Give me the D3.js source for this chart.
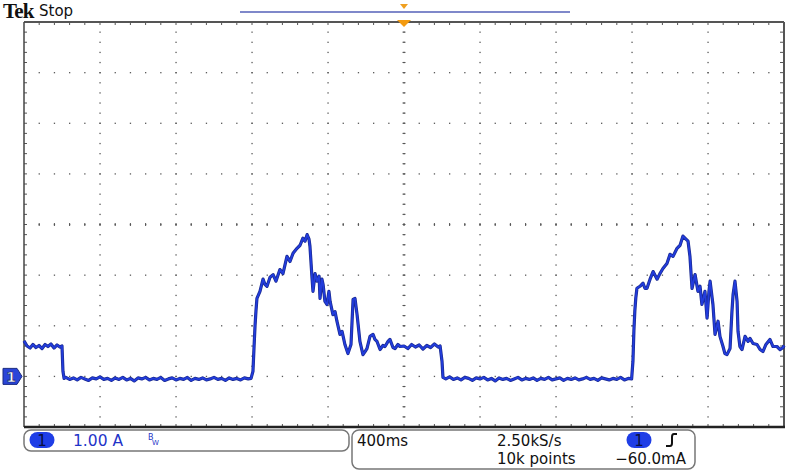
<!DOCTYPE html>
<html><head><meta charset="utf-8">
<script src="https://cdn.jsdelivr.net/npm/d3@7"></script>
<style>
html,body{margin:0;padding:0;background:#fff;}
svg{display:block;}
</style></head>
<body>
<svg id="c" width="800" height="476"></svg>
<script>
// ---- data (time in ms relative to trigger, current in A) ----
const timeRangeMs = [-2000, 2000];
const currentRangeA = [-1, 7];
const xDivisions = 10;
const yDivisions = 8;
const headerTexts = ["Tek", "Stop"];
const channelScale = "1.00 A";
const timebase = "400ms";
const sampleRate = "2.50kS/s";
const recordLength = "10k points";
const triggerLevel = "\u221260.0mA";

const highStartMs = [-2000,-1984,-1968,-1953,-1937,-1921,-1905,-1889,-1874,-1858,-1842,-1826,-1811,-1800];
const highStartA  = [0.70,0.60,0.56,0.63,0.57,0.61,0.55,0.63,0.59,0.64,0.56,0.62,0.58,0.60];

const lowOneMs = [-1795,-1789,-1780,-1760,-1740,-1720,-1700,-1680,-1660,-1640,-1620,-1600,-1580,-1560,-1540,-1520,-1500,-1480,-1460,-1440,-1420,-1400,-1380,-1360,-1340,-1320,-1300,-1280,-1260,-1240,-1220,-1200,-1180,-1160,-1140,-1120,-1100,-1080,-1060,-1040,-1020,-1000,-980,-960,-940,-920,-900,-880,-860,-840,-820,-805];
const lowOneA  = [0.10,-0.04,-0.02,-0.06,-0.03,-0.07,-0.02,-0.05,-0.08,-0.03,-0.05,-0.01,-0.06,-0.04,-0.08,-0.03,-0.06,-0.02,-0.07,-0.04,-0.09,-0.03,-0.05,-0.02,-0.07,-0.04,-0.06,-0.02,-0.08,-0.05,-0.03,-0.07,-0.04,-0.06,-0.02,-0.08,-0.04,-0.06,-0.03,-0.07,-0.05,-0.02,-0.06,-0.04,-0.08,-0.03,-0.06,-0.04,-0.07,-0.03,-0.05,-0.04];

const pulseOneMs = [-795,-789,-784,-779,-774,-758,-742,-732,-721,-705,-689,-674,-653,-637,-616,-600,-584,-563,-547,-532,-521,-510,-500,-495,-484,-479,-468,-458,-447,-442,-432,-426,-416,-405,-395,-389,-374,-363,-353,-337,-326,-311,-295,-279,-268,-258,-247,-232,-216,-205,-195,-179,-163,-153,-142,-126,-111,-100,-84,-74,-58,-47,-32,-21,0,20,40,60,80,100,120,140,160,180,190];
const pulseOneA  = [0.10,0.60,1.00,1.30,1.54,1.68,1.92,1.82,1.78,1.96,2.01,1.88,2.11,2.03,2.37,2.27,2.43,2.53,2.59,2.73,2.67,2.80,2.71,2.57,1.94,1.68,2.03,1.88,1.98,1.54,1.92,1.82,1.48,1.42,1.68,1.48,1.22,1.28,1.09,0.83,0.89,0.63,0.45,0.63,1.52,1.54,1.22,0.69,0.43,0.49,0.55,0.79,0.83,0.73,0.69,0.53,0.61,0.59,0.69,0.73,0.57,0.55,0.63,0.59,0.60,0.55,0.63,0.58,0.62,0.54,0.61,0.57,0.64,0.58,0.60];

const lowTwoMs = [200,205,220,240,260,280,300,320,340,360,380,400,420,440,460,480,500,520,540,560,580,600,620,640,660,680,700,720,740,760,780,800,820,840,860,880,900,920,940,960,980,1000,1020,1040,1060,1080,1100,1120,1140,1160,1180,1198];
const lowTwoA  = [0.30,-0.02,-0.05,-0.01,-0.06,-0.03,-0.07,-0.02,-0.04,-0.08,-0.03,-0.05,-0.02,-0.07,-0.04,-0.09,-0.03,-0.06,-0.04,-0.08,-0.05,-0.02,-0.07,-0.04,-0.06,-0.03,-0.08,-0.04,-0.06,-0.02,-0.07,-0.05,-0.03,-0.08,-0.04,-0.06,-0.03,-0.07,-0.05,-0.02,-0.06,-0.04,-0.08,-0.03,-0.05,-0.07,-0.04,-0.06,-0.02,-0.07,-0.04,-0.05];

const pulseTwoMs = [1205,1210,1215,1220,1226,1242,1258,1268,1279,1295,1311,1332,1347,1363,1384,1400,1416,1437,1453,1468,1484,1495,1505,1516,1532,1547,1558,1568,1584,1595,1605,1611,1626,1637,1653,1663,1679,1689,1700,1716,1726,1732,1742,1753,1758,1768,1779,1795,1811,1821,1837,1858,1874,1889,1905,1926,1942,1963,1979,1995,2000];
const pulseTwoA  = [0.30,0.90,1.30,1.55,1.74,1.78,1.84,1.74,1.74,1.92,2.07,1.92,2.03,2.13,2.23,2.41,2.37,2.53,2.59,2.77,2.71,2.67,2.37,1.74,2.01,1.68,1.78,1.42,1.68,1.15,1.68,1.88,1.42,0.83,1.09,0.79,0.59,0.45,0.43,0.55,1.28,1.62,1.88,1.48,0.89,0.59,0.53,0.79,0.69,0.75,0.65,0.63,0.53,0.49,0.63,0.73,0.59,0.59,0.53,0.57,0.61];

const traceMs = [].concat(highStartMs, lowOneMs, pulseOneMs, lowTwoMs, pulseTwoMs);
const traceA  = [].concat(highStartA, lowOneA, pulseOneA, lowTwoA, pulseTwoA);
const trace = traceMs.map((t, i) => ({t, a: traceA[i]}));

// ---- drawing ----
const svg = d3.select("#c");
const L = 24, R = 784, T = 22, B = 427;
const x = d3.scaleLinear().domain(timeRangeMs).range([L, R]);
const y = d3.scaleLinear().domain(currentRangeA).range([B, T]);

const divMs = (timeRangeMs[1]-timeRangeMs[0])/xDivisions;
const divA = (currentRangeA[1]-currentRangeA[0])/yDivisions;

const grid = svg.append("g").attr("fill", "#5a5a5a");
for (let j = 1; j < yDivisions; j++) {
  const a = currentRangeA[0] + j*divA;
  for (let k = 1; k < xDivisions*5; k++) {
    const t = timeRangeMs[0] + k*divMs/5;
    grid.append("rect").attr("x", x(t)-0.6).attr("y", y(a)-0.6).attr("width", 1.3).attr("height", 1.3);
  }
}
for (let i = 1; i < xDivisions; i++) {
  const t = timeRangeMs[0] + i*divMs;
  for (let k = 1; k < yDivisions*5; k++) {
    const a = currentRangeA[0] + k*divA/5;
    grid.append("rect").attr("x", x(t)-0.6).attr("y", y(a)-0.6).attr("width", 1.3).attr("height", 1.3);
  }
}
const ticks = svg.append("g").attr("stroke", "#555").attr("stroke-width", 1);
for (let k = 1; k < xDivisions*5; k++) {
  const t = timeRangeMs[0] + k*divMs/5;
  ticks.append("line").attr("x1", x(t)).attr("x2", x(t)).attr("y1", T).attr("y2", T+3);
  ticks.append("line").attr("x1", x(t)).attr("x2", x(t)).attr("y1", B).attr("y2", B-3);
}
for (let k = 1; k < yDivisions*5; k++) {
  const a = currentRangeA[0] + k*divA/5;
  ticks.append("line").attr("x1", L).attr("x2", L+3).attr("y1", y(a)).attr("y2", y(a));
  ticks.append("line").attr("x1", R).attr("x2", R-4).attr("y1", y(a)).attr("y2", y(a));
}
for (let k = 1; k < xDivisions*5; k++) {
  const t = timeRangeMs[0] + k*divMs/5;
  ticks.append("line").attr("x1", x(t)).attr("x2", x(t)).attr("y1", y(3)-1.5).attr("y2", y(3)+1.5);
}
for (let k = 1; k < yDivisions*5; k++) {
  const a = currentRangeA[0] + k*divA/5;
  ticks.append("line").attr("x1", x(0)-1.5).attr("x2", x(0)+1.5).attr("y1", y(a)).attr("y2", y(a));
}

// frame
svg.append("line").attr("x1", L).attr("x2", R).attr("y1", T).attr("y2", T).attr("stroke", "#555").attr("stroke-width", 2);
svg.append("line").attr("x1", L).attr("x2", L).attr("y1", T).attr("y2", B).attr("stroke", "#444").attr("stroke-width", 1.5);
svg.append("line").attr("x1", R).attr("x2", R).attr("y1", T).attr("y2", B+1).attr("stroke", "#555").attr("stroke-width", 2);
svg.append("line").attr("x1", L).attr("x2", R+1).attr("y1", B).attr("y2", B).attr("stroke", "#222").attr("stroke-width", 2.5);

// trace
const line = d3.line().x(d => x(d.t)).y(d => y(d.a));
svg.append("path").datum(trace).attr("d", line).attr("fill", "none")
  .attr("stroke", "#1a2a90").attr("stroke-width", 3.2).attr("stroke-linejoin", "round");
svg.append("path").datum(trace).attr("d", line).attr("fill", "none")
  .attr("stroke", "#223cdc").attr("stroke-width", 1.8).attr("stroke-linejoin", "round");

// header
svg.append("text").attr("x", 3).attr("y", 18).text(headerTexts[0])
  .attr("font-family", "Liberation Serif").attr("font-weight", "bold").attr("font-size", 21).attr("letter-spacing", -0.8).attr("fill", "#111");
svg.append("text").attr("x", 39).attr("y", 16).text(headerTexts[1])
  .attr("font-family", "DejaVu Sans").attr("font-size", 15).attr("fill", "#111");

// record bar and trigger markers
svg.append("line").attr("x1", 240).attr("x2", 570).attr("y1", 12).attr("y2", 12).attr("stroke", "#5560b8").attr("stroke-width", 1.5);
const tx = x(0);
svg.append("path").attr("d", `M${tx-4},4 L${tx+4},4 L${tx},9 Z`).attr("fill", "#f0a020");
svg.append("path").attr("d", `M${tx-7},20 L${tx+7},20 L${tx},27 Z`).attr("fill", "#f39a10");

// ground marker
const gy = y(0);
svg.append("path").attr("d", `M3,${gy-8} L17,${gy-8} L22,${gy} L17,${gy+8} L3,${gy+8} Z`)
  .attr("fill", "#2a45d8").attr("stroke", "#1a2a80").attr("stroke-width", 1);
svg.append("text").attr("x", 11).attr("y", gy+5.5).attr("text-anchor", "middle").text("1")
  .attr("font-family", "DejaVu Sans").attr("font-weight", "bold").attr("font-size", 14).attr("fill", "#fff").attr("stroke", "#10185a").attr("stroke-width", 0.6);

// status boxes
svg.append("rect").attr("x", 24).attr("y", 430).attr("width", 325).attr("height", 21).attr("rx", 7)
  .attr("fill", "none").attr("stroke", "#777").attr("stroke-width", 1.5);
svg.append("rect").attr("x", 352).attr("y", 430).attr("width", 343).attr("height", 39).attr("rx", 7)
  .attr("fill", "none").attr("stroke", "#777").attr("stroke-width", 1.5);

function pill(cx, cy) {
  svg.append("rect").attr("x", cx-12.5).attr("y", cy-8).attr("width", 25).attr("height", 16).attr("rx", 8)
    .attr("fill", "#1f3ee6");
  svg.append("text").attr("x", cx).attr("y", cy+5.5).attr("text-anchor", "middle").text("1")
    .attr("font-family", "DejaVu Sans").attr("font-size", 15).attr("fill", "#0a0f40");
}
pill(42, 440);
svg.append("text").attr("x", 73).attr("y", 446).text(channelScale)
  .attr("font-family", "DejaVu Sans").attr("font-size", 15.5).attr("fill", "#1f34c8");
svg.append("text").attr("x", 148).attr("y", 440).text("B")
  .attr("font-family", "DejaVu Sans").attr("font-size", 8).attr("fill", "#1f34c8");
svg.append("text").attr("x", 152).attr("y", 445).text("W")
  .attr("font-family", "DejaVu Sans").attr("font-size", 7).attr("fill", "#1f34c8");

const sfont = {"font-family": "DejaVu Sans", "font-size": 15, "fill": "#111"};
function stext(xp, yp, s, anchor) {
  const t = svg.append("text").attr("x", xp).attr("y", yp).text(s).attr("text-anchor", anchor || "start");
  for (const k in sfont) t.attr(k, sfont[k]);
}
stext(357, 446, timebase);
stext(497, 446, sampleRate);
stext(497, 464, recordLength);
stext(686, 464, triggerLevel, "end");
pill(639, 440);
svg.append("path").attr("d", "M666,446 L670,446 Q672,446 672,443 L672,437 Q672,434 674,434 L677,434")
  .attr("fill", "none").attr("stroke", "#111").attr("stroke-width", 2);
</script>
</body></html>
